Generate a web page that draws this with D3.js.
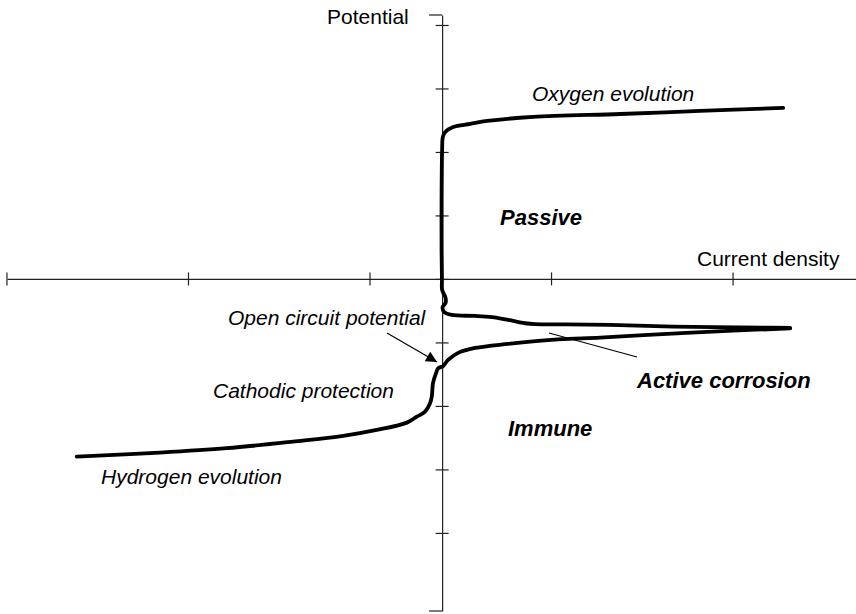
<!DOCTYPE html>
<html>
<head>
<meta charset="utf-8">
<script src="https://cdn.jsdelivr.net/npm/d3@7"></script>
<style>
  body { margin: 0; background: #fff; }
  text { font-family: Arial, "Liberation Sans", sans-serif; fill: #000; }
</style>
</head>
<body>
<svg id="polarisation" width="856" height="614"></svg>
<script>
// anodic branch: oxygen evolution -> passive -> active corrosion
const anodicX = [1.879, 1.421, 0.981, 0.501, 0.248, 0.154, 0.061, 0.017, 0.004, 0.0, -0.003, -0.003, -0.001, 0.0, 0.019, 0.019, 0.003, 0.011, 0.053, 0.182, 0.274, 0.364, 0.457, 0.512, 0.678, 0.926, 1.273, 1.791, 1.917];
const anodicY = [2.693, 2.646, 2.598, 2.551, 2.488, 2.441, 2.394, 2.315, 2.236, 2.031, 1.244, 0.457, -0.016, -0.173, -0.299, -0.378, -0.441, -0.520, -0.567, -0.583, -0.603, -0.646, -0.698, -0.713, -0.717, -0.724, -0.751, -0.767, -0.772];

// cathodic branch: active corrosion -> open circuit -> hydrogen evolution
const cathodicX = [1.917, 1.603, 1.240, 0.871, 0.639, 0.364, 0.182, 0.088, 0.033, 0.006, -0.022, -0.033, -0.050, -0.057, -0.066, -0.094, -0.139, -0.194, -0.360, -0.545, -0.821, -1.186, -1.554, -2.013];
const cathodicY = [-0.780, -0.814, -0.866, -0.924, -0.953, -1.024, -1.087, -1.165, -1.276, -1.370, -1.409, -1.480, -1.638, -1.854, -1.953, -2.090, -2.169, -2.263, -2.378, -2.472, -2.562, -2.666, -2.735, -2.798];

const xTicks = [-2.4, -1.4, -0.4, 0.6, 1.6];
const yTicks = [-4, -3, -2, -1, 0, 1, 2, 3, 4];

const svg = d3.select("svg#polarisation");

// scales (axes cross at 0,0)
const xScale = d3.scaleLinear().domain([-2.397, 2.28]).range([7, 856]);
const yScale = d3.scaleLinear().domain([-5.23, 4.157]).range([611, 15]);

const ox = xScale(0), oy = yScale(0);
const axisColor = "#222";

// x axis
const xAxis = svg.append("g")
  .attr("transform", `translate(0, ${oy})`)
  .call(d3.axisBottom(xScale).tickValues(xTicks).tickSizeOuter(0).tickFormat(""));
xAxis.select(".domain").attr("stroke", axisColor).attr("stroke-width", 1.2);
xAxis.selectAll(".tick line").attr("y1", -6.5).attr("y2", 6.5).attr("stroke", axisColor).attr("stroke-width", 1.2);

// y axis
const yAxis = svg.append("g")
  .attr("transform", `translate(${ox}, 0)`)
  .call(d3.axisLeft(yScale).tickValues(yTicks).tickSizeOuter(0).tickFormat(""));
yAxis.select(".domain").attr("stroke", axisColor).attr("stroke-width", 1.2);
yAxis.selectAll(".tick line").attr("x1", -6.5).attr("x2", 6.5).attr("stroke", axisColor).attr("stroke-width", 1.2);

// end caps of the vertical axis
yAxis.selectAll("line.cap")
  .data(yScale.domain())
  .enter()
  .append("line")
  .attr("class", "cap")
  .attr("x1", -13).attr("x2", 0)
  .attr("y1", d => yScale(d)).attr("y2", d => yScale(d))
  .attr("stroke", axisColor).attr("stroke-width", 1.2);

// curves
const line = d3.line()
  .x(d => xScale(d[0]))
  .y(d => yScale(d[1]))
  .curve(d3.curveCatmullRom.alpha(0.5));

const anodic = anodicX.map((x, i) => [x, anodicY[i]]);
const cathodic = cathodicX.map((x, i) => [x, cathodicY[i]]);

svg.append("g")
  .selectAll("path")
  .data([anodic, cathodic])
  .enter()
  .append("path")
  .attr("d", line)
  .attr("fill", "none")
  .attr("stroke", "#000")
  .attr("stroke-width", 3.8)
  .attr("stroke-linejoin", "round")
  .attr("stroke-linecap", "round");

// arrow to open circuit potential
svg.append("defs").append("marker")
  .attr("id", "head")
  .attr("viewBox", "0 0 10 10")
  .attr("refX", 10).attr("refY", 5)
  .attr("markerWidth", 14).attr("markerHeight", 11)
  .attr("markerUnits", "userSpaceOnUse")
  .attr("orient", "auto")
  .append("path")
  .attr("d", "M0,0 L10,5 L0,10 Z")
  .attr("fill", "#000");

svg.append("line")
  .attr("x1", 387).attr("y1", 333)
  .attr("x2", 437).attr("y2", 362)
  .attr("stroke", "#000").attr("stroke-width", 1.2)
  .attr("marker-end", "url(#head)");

// pointer for active corrosion
svg.append("line")
  .attr("x1", 549).attr("y1", 333)
  .attr("x2", 637).attr("y2", 357)
  .attr("stroke", "#000").attr("stroke-width", 1.2);

// labels
const labels = [
  { t: "Potential", x: 327, y: 24, s: "normal", w: "normal" },
  { t: "Current density", x: 697, y: 266, s: "normal", w: "normal" },
  { t: "Oxygen evolution", x: 532, y: 101, s: "italic", w: "normal" },
  { t: "Passive", x: 500, y: 225, s: "italic", w: "bold" },
  { t: "Open circuit potential", x: 228, y: 325, s: "italic", w: "normal" },
  { t: "Cathodic protection", x: 213, y: 398, s: "italic", w: "normal" },
  { t: "Active corrosion", x: 637, y: 388, s: "italic", w: "bold" },
  { t: "Immune", x: 508, y: 436, s: "italic", w: "bold" },
  { t: "Hydrogen evolution", x: 101, y: 484, s: "italic", w: "normal" }
];

svg.append("g")
  .selectAll("text")
  .data(labels)
  .enter()
  .append("text")
  .attr("x", d => d.x)
  .attr("y", d => d.y)
  .style("font-size", d => d.w === "bold" ? "22px" : "21px")
  .style("font-style", d => d.s)
  .style("font-weight", d => d.w)
  .text(d => d.t);
</script>
</body>
</html>
